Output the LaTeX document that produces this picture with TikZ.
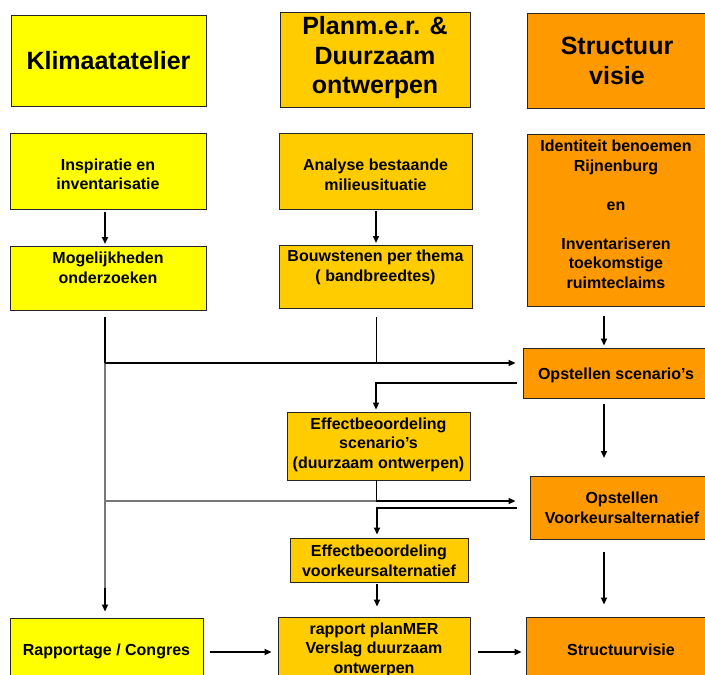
\documentclass[tikz,border=0pt]{standalone}
\usepackage{fontspec}
\setmainfont{Liberation Sans}
\usetikzlibrary{arrows.meta,fit}
\definecolor{cY}{HTML}{FFFF00}
\definecolor{cG}{HTML}{FFCC00}
\definecolor{cO}{HTML}{FF9900}
\definecolor{lgray}{HTML}{777777}
\tikzset{
  box/.style={draw=black!85, line width=0.9pt, inner sep=0pt},
  txt/.style={align=center, font=\bfseries\fontsize{16}{19.5}\selectfont, inner sep=0pt},
  hdr/.style={align=center, font=\bfseries\fontsize{25}{29.5}\selectfont, inner sep=0pt},
  tip/.style={-{Triangle[length=7pt,width=6pt]}},
  thk/.style={line width=2pt},
  thn/.style={line width=1pt},
  gry/.style={line width=1.5pt, draw=lgray},
}
\begin{document}
\begin{tikzpicture}[x=1pt,y=-1pt]
\useasboundingbox (0,0) rectangle (705,675);
\clip (0,0) rectangle (705,675);
% boxes
\node[box, fill=cY, fit={(11,15) (206,106)}] (k1) {};
\node[box, fill=cG, fit={(280,12) (470,107)}] (p1) {};
\node[box, fill=cO, fit={(527,13) (707,108)}] (s1) {};
\node[box, fill=cY, fit={(10,133) (206,209)}] (k2) {};
\node[box, fill=cG, fit={(279,133) (472,209)}] (p2) {};
\node[box, fill=cO, fit={(527,134) (707,306)}] (s2) {};
\node[box, fill=cY, fit={(10,246) (206,310)}] (k3) {};
\node[box, fill=cG, fit={(279,245) (472,308)}] (p3) {};
\node[box, fill=cO, fit={(523,348) (707,398)}] (s3) {};
\node[box, fill=cG, fit={(287,412) (470,480)}] (p4) {};
\node[box, fill=cO, fit={(530,476) (712,539)}] (s4) {};
\node[box, fill=cG, fit={(290,538) (468,582)}] (p5) {};
\node[box, fill=cY, fit={(10,618) (203,690)}] (k4) {};
\node[box, fill=cG, fit={(278,617) (470,690)}] (p6) {};
\node[box, fill=cO, fit={(526,617) (712,690)}] (s5) {};
% texts
\node[hdr] (k1t) at (108.5,61) {Klimaatatelier};
\node[hdr] (p1t) at (375,58) {Planm.e.r. \&\\Duurzaam\\ontwerpen};
\node[hdr] (s1t) at (617,61) {Structuur\\visie};
\node[txt] (k2t) at (108,174.5) {Inspiratie en\\inventarisatie};
\node[txt] (p2t) at (375.5,175) {Analyse bestaande\\milieusituatie};
\node[txt] (s2t) at (616,214.5) {Identiteit benoemen\\Rijnenburg\\\mbox{}\\en\\\mbox{}\\Inventariseren\\toekomstige\\ruimteclaims};
\node[txt] (k3t) at (108,268) {Mogelijkheden\\onderzoeken};
\node[txt] (p3t) at (375.5,267.5) {Bouwstenen per thema\\( bandbreedtes)};
\node[txt] (s3t) at (616,375) {Opstellen scenario’s};
\node[txt] (p4t) at (378.5,444.5) {Effectbeoordeling\\scenario’s\\(duurzaam ontwerpen)};
\node[txt] (s4t) at (622,508) {Opstellen\\Voorkeursalternatief};
\node[txt] (p5t) at (379,561) {Effectbeoordeling\\voorkeursalternatief};
\node[txt] (k4t) at (106.5,651) {Rapportage / Congres};
\node[txt] (p6t) at (374,649.5) {rapport planMER\\Verslag duurzaam\\ontwerpen};
\node[txt] (s5t) at (621,650) {Structuurvisie};
% junctions
\coordinate (j1) at (105,363);
\coordinate (j2) at (376,363);
\coordinate (j3) at (106,501);
\coordinate (j4) at (376,501);
\coordinate (r1) at (376,383);
\coordinate (r2) at (377,508);
% connectors
\draw[thk,tip] (105,212) -- (105,244);
\draw[line width=2.6pt,tip] (376,211) -- (376,243);
\draw[gry] (j1) -- ([yshift=30pt]k4.north -| j1);
\draw[thk,tip] ([yshift=30pt]k4.north -| j1) -- ([yshift=6pt]k4.north -| j1);
\draw[thk] (105,317) -- (j1);
\draw[thn] (376,317) -- (j2);
\draw[line width=2.4pt,tip] (j1) -- ([xshift=-7pt]s3.west |- j1);
\draw[line width=2.4pt,tip] (604,316) -- ([yshift=2pt]s3.north -| 604,0);
\draw[thk,tip] ([xshift=-6pt]s3.west |- r1) -- (r1) -- ([yshift=2pt]p4.north -| r1);
\draw[line width=2.4pt,tip] (604,404) -- (604,458);
\draw[thn] (p4.south -| j4) -- (j4);
\draw[gry] (j3) -- (j4);
\draw[line width=2.6pt,tip] (j4) -- ([xshift=-14pt]s4.west |- j4);
\draw[thk,tip] ([xshift=-13pt]s4.west |- r2) -- (r2) -- ([yshift=3pt]p5.north -| r2);
\draw[line width=2.4pt,tip] (604,552) -- ([yshift=12pt]s5.north -| 604,0);
\draw[thk,tip] ([yshift=-2pt]p5.south -| 377,0) -- ([yshift=10pt]p6.north -| 377,0);
\draw[thk,tip] ([xshift=7pt]k4.east |- 0,652) -- ([xshift=-6pt]p6.west |- 0,652);
\draw[thk,tip] ([xshift=8pt]p6.east |- 0,652) -- ([xshift=-4pt]s5.west |- 0,652);
\end{tikzpicture}
\end{document}
